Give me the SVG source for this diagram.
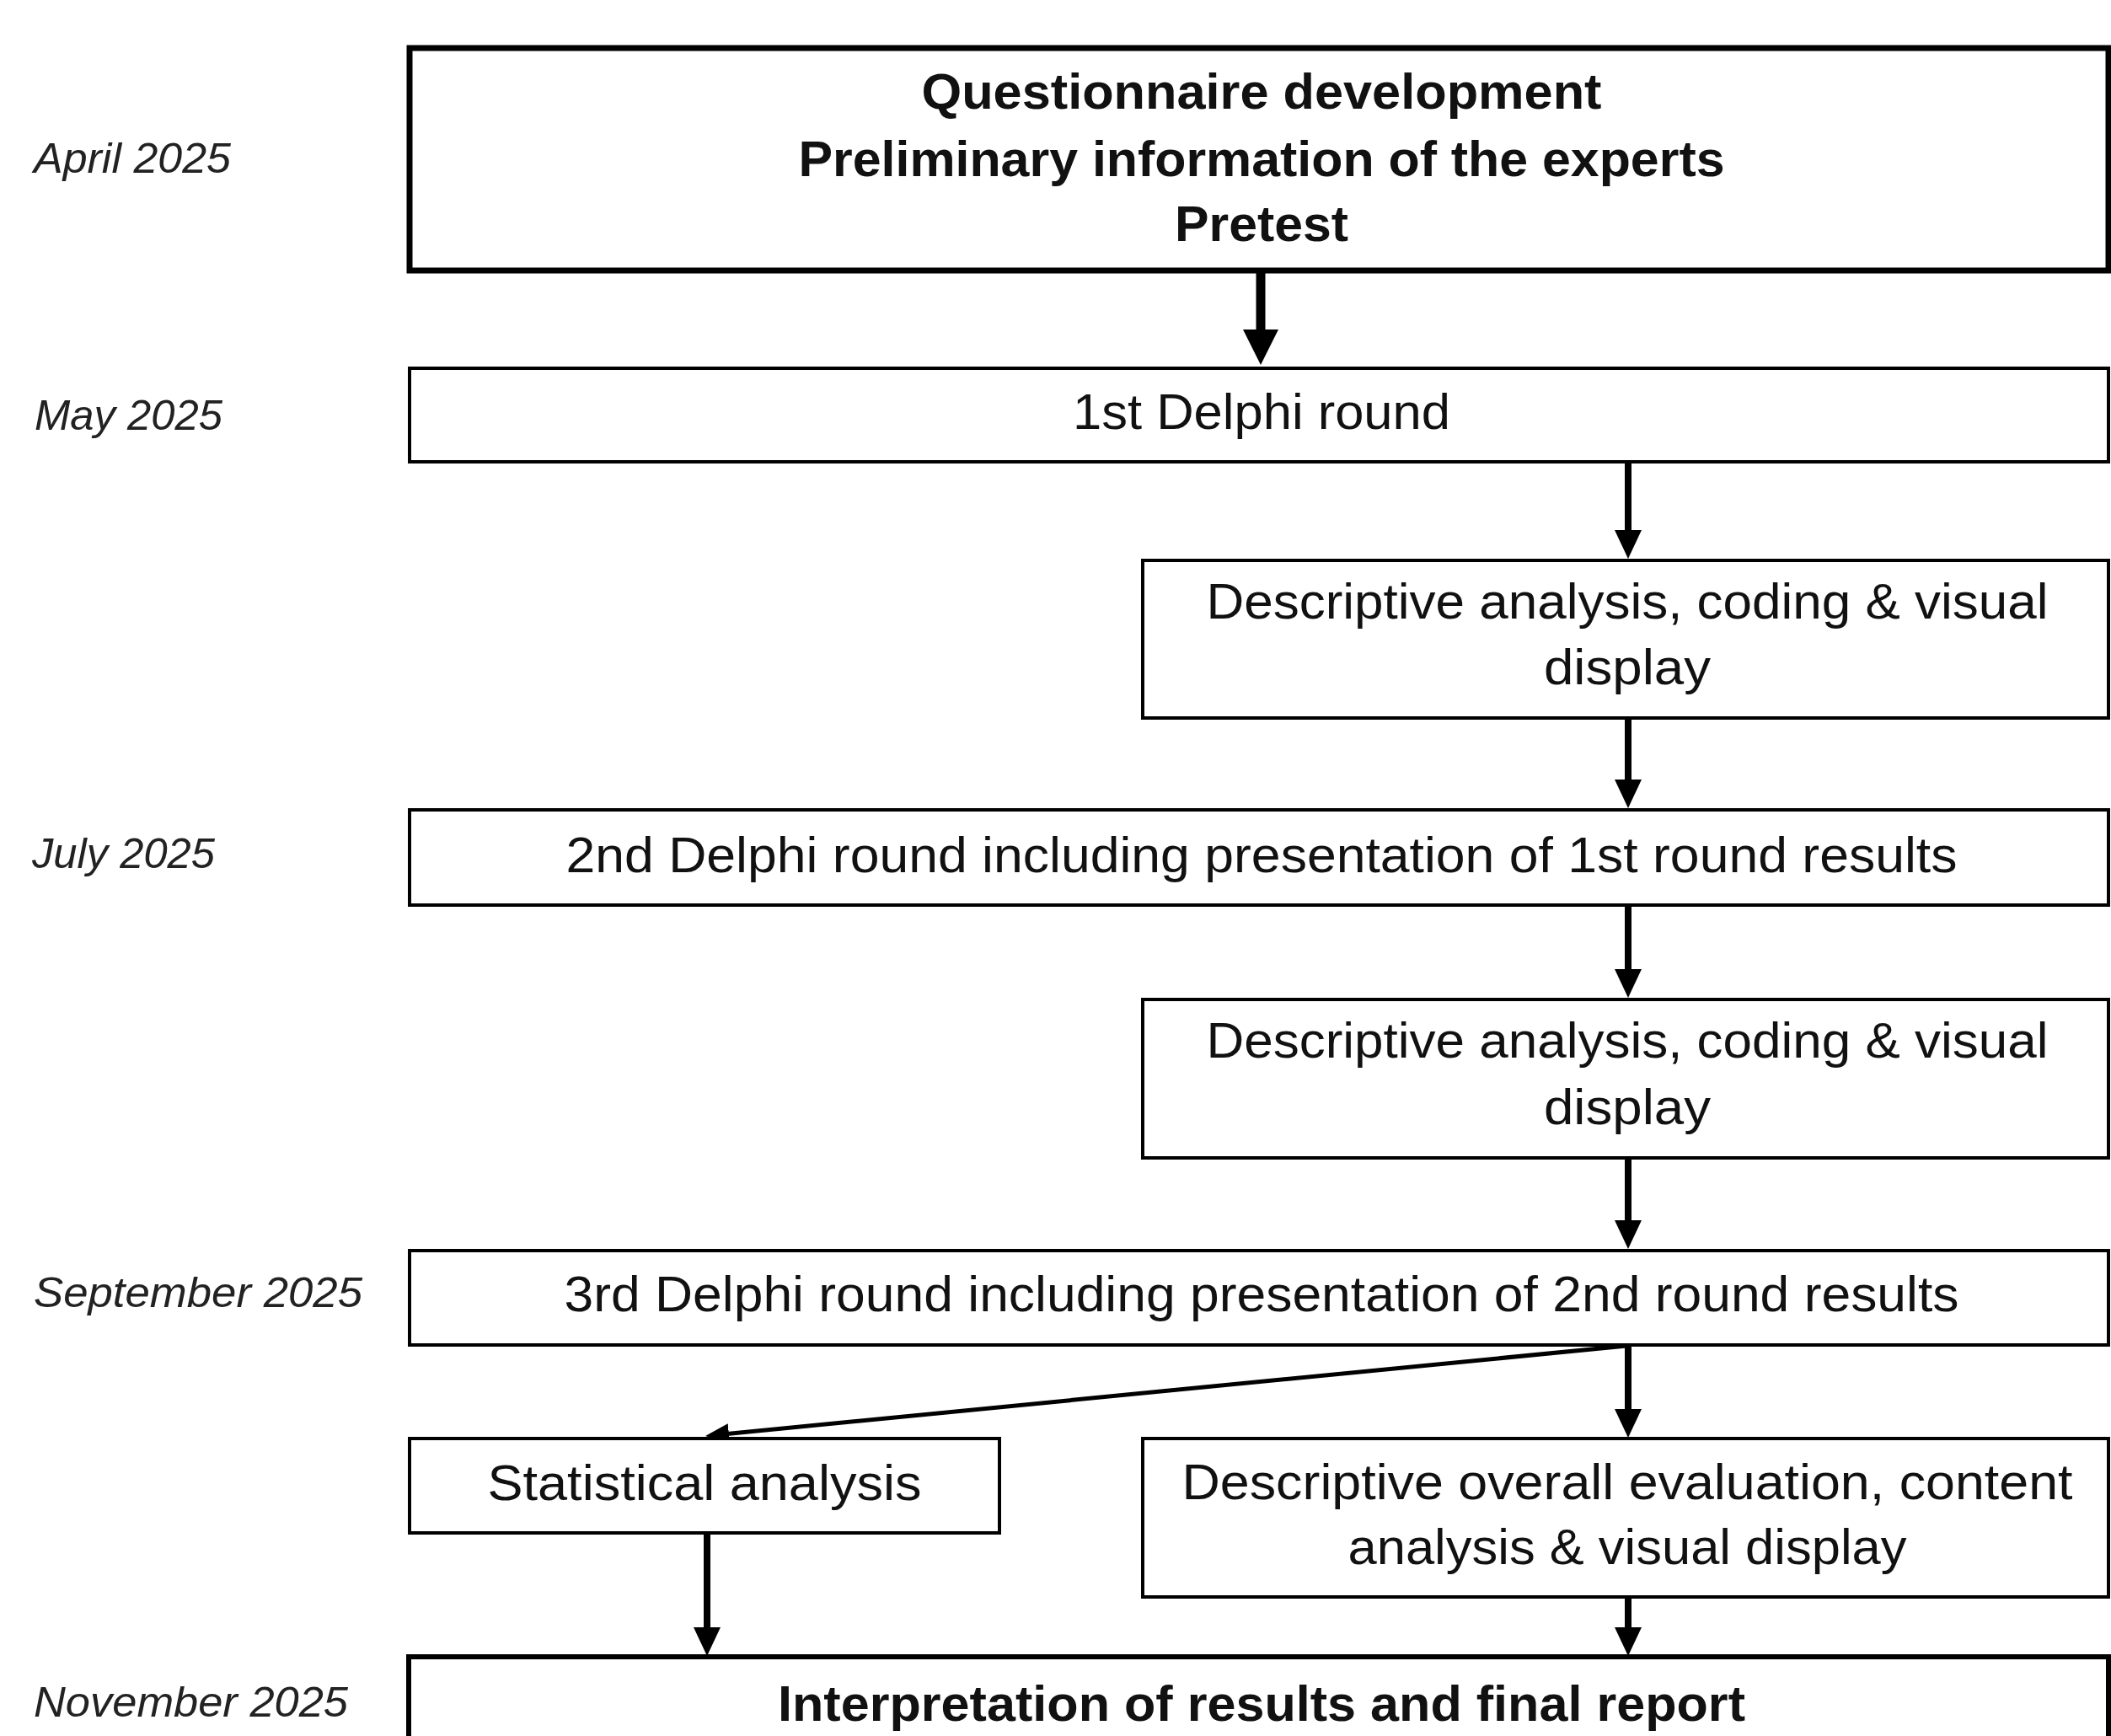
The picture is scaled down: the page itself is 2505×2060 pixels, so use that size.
<svg xmlns="http://www.w3.org/2000/svg" width="2505" height="2060" viewBox="0 0 2505 2060">
<defs>
<style>
.box{fill:#fff;stroke:#000;stroke-width:4}
.bold-box{fill:#fff;stroke:#000;stroke-width:7}
.t{font-family:"Liberation Sans",Arial,sans-serif;font-size:60px;fill:#111;text-anchor:middle}
.b{font-weight:bold}
.d{font-family:"Liberation Sans",Arial,sans-serif;font-size:50px;font-style:italic;fill:#222}
.c{stroke:#000;stroke-width:8;fill:none}
</style>
<marker id="arr" markerUnits="userSpaceOnUse" markerWidth="34" markerHeight="32" refX="22" refY="16" orient="auto"><path d="M0,0 L34,16 L0,32 Z" fill="#000"/></marker>
<marker id="arrBig" markerUnits="userSpaceOnUse" markerWidth="42" markerHeight="42" refX="30" refY="21" orient="auto"><path d="M0,0 L42,21 L0,42 Z" fill="#000"/></marker>
<marker id="arrThin" markerUnits="userSpaceOnUse" markerWidth="28" markerHeight="24" refX="20" refY="12" orient="auto"><path d="M0,0 L28,12 L0,24 Z" fill="#000"/></marker>
</defs>
<rect width="2505" height="2060" fill="#fff"/>

<g id="dates">
<text class="d" x="40" y="205" textLength="234" lengthAdjust="spacingAndGlyphs">April 2025</text>
<text class="d" x="41" y="510" textLength="223" lengthAdjust="spacingAndGlyphs">May 2025</text>
<text class="d" x="38" y="1030" textLength="217" lengthAdjust="spacingAndGlyphs">July 2025</text>
<text class="d" x="40" y="1551" textLength="390" lengthAdjust="spacingAndGlyphs">September 2025</text>
<text class="d" x="40" y="2037" textLength="373" lengthAdjust="spacingAndGlyphs">November 2025</text>
</g>

<g id="connectors">
<line x1="1496" y1="321" x2="1496" y2="421" stroke="#000" stroke-width="11" marker-end="url(#arrBig)"/>
<line class="c" x1="1932" y1="548" x2="1932" y2="651" marker-end="url(#arr)"/>
<line class="c" x1="1932" y1="852" x2="1932" y2="947" marker-end="url(#arr)"/>
<line class="c" x1="1932" y1="1074" x2="1932" y2="1172" marker-end="url(#arr)"/>
<line class="c" x1="1932" y1="1374" x2="1932" y2="1470" marker-end="url(#arr)"/>
<line class="c" x1="1932" y1="1596" x2="1932" y2="1694" marker-end="url(#arr)"/>
<line x1="1930" y1="1597" x2="845" y2="1703.2" stroke="#000" stroke-width="5" marker-end="url(#arrThin)"/>
<line class="c" x1="839" y1="1819" x2="839" y2="1953" marker-end="url(#arr)"/>
<line class="c" x1="1932" y1="1895" x2="1932" y2="1953" marker-end="url(#arr)"/>
</g>

<g id="n-questionnaire">
<rect class="bold-box" x="486" y="57" width="2016" height="264"/>
<text class="t b" x="1497" y="129" textLength="807" lengthAdjust="spacingAndGlyphs">Questionnaire development</text>
<text class="t b" x="1497" y="209" textLength="1099" lengthAdjust="spacingAndGlyphs">Preliminary information of the experts</text>
<text class="t b" x="1497" y="286" textLength="206" lengthAdjust="spacingAndGlyphs">Pretest</text>
</g>

<g id="n-round1">
<rect class="box" x="486" y="437" width="2016" height="111"/>
<text class="t" x="1497" y="509" textLength="448" lengthAdjust="spacingAndGlyphs">1st Delphi round</text>
</g>

<g id="n-analysis1">
<rect class="box" x="1356" y="665" width="1146" height="187"/>
<text class="t" x="1931" y="734" textLength="999" lengthAdjust="spacingAndGlyphs">Descriptive analysis, coding &amp; visual</text>
<text class="t" x="1931" y="812" textLength="198" lengthAdjust="spacingAndGlyphs">display</text>
</g>

<g id="n-round2">
<rect class="box" x="486" y="961" width="2016" height="113"/>
<text class="t" x="1497" y="1035" textLength="1651" lengthAdjust="spacingAndGlyphs">2nd Delphi round including presentation of 1st round results</text>
</g>

<g id="n-analysis2">
<rect class="box" x="1356" y="1186" width="1146" height="188"/>
<text class="t" x="1931" y="1255" textLength="999" lengthAdjust="spacingAndGlyphs">Descriptive analysis, coding &amp; visual</text>
<text class="t" x="1931" y="1334" textLength="198" lengthAdjust="spacingAndGlyphs">display</text>
</g>

<g id="n-round3">
<rect class="box" x="486" y="1484" width="2016" height="112"/>
<text class="t" x="1497" y="1556" textLength="1655" lengthAdjust="spacingAndGlyphs">3rd Delphi round including presentation of 2nd round results</text>
</g>

<g id="n-statistical">
<rect class="box" x="486" y="1707" width="700" height="112"/>
<text class="t" x="836" y="1780" textLength="515" lengthAdjust="spacingAndGlyphs">Statistical analysis</text>
</g>

<g id="n-overall">
<rect class="box" x="1356" y="1707" width="1146" height="188"/>
<text class="t" x="1931" y="1779" textLength="1057" lengthAdjust="spacingAndGlyphs">Descriptive overall evaluation, content</text>
<text class="t" x="1931" y="1856" textLength="663" lengthAdjust="spacingAndGlyphs">analysis &amp; visual display</text>
</g>

<g id="n-final">
<rect x="485" y="1966" width="2017" height="140" fill="#fff" stroke="#000" stroke-width="6"/>
<text class="t b" x="1497" y="2042" textLength="1148" lengthAdjust="spacingAndGlyphs">Interpretation of results and final report</text>
</g>
</svg>
